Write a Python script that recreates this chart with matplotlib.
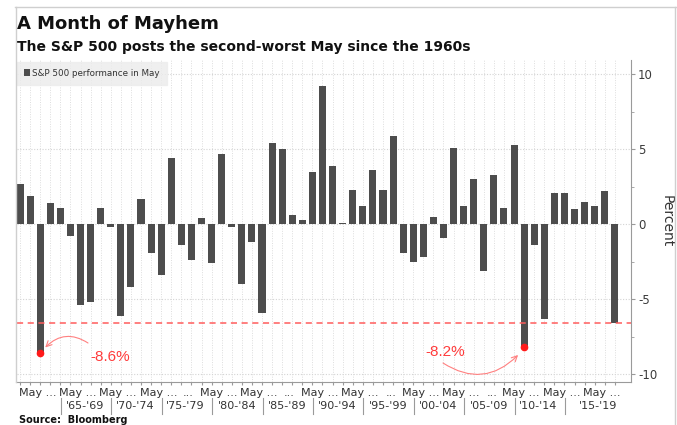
import matplotlib
matplotlib.use("Agg")
import matplotlib.pyplot as plt
import matplotlib.transforms as mtransforms
from matplotlib.lines import Line2D
import numpy as np

years = list(range(1960, 2020))
values = [2.7, 1.9, -8.6, 1.4, 1.1, -0.8, -5.4, -5.2, 1.1, -0.2,
          -6.1, -4.2, 1.7, -1.9, -3.4, 4.4, -1.4, -2.4, 0.4, -2.6,
          4.7, -0.2, -4.0, -1.2, -5.9, 5.4, 5.0, 0.6, 0.3, 3.5,
          9.2, 3.9, 0.1, 2.3, 1.2, 3.6, 2.3, 5.9, -1.9, -2.5,
          -2.2, 0.5, -0.9, 5.1, 1.2, 3.0, -3.1, 3.3, 1.1, 5.3,
          -8.2, -1.4, -6.3, 2.1, 2.1, 1.0, 1.5, 1.2, 2.2, -6.6]

row1_labels = ["May ...", "May ...", "May ...", "May ...", "...", "May ...", "May ...",
               "...", "May ...", "May ...", "...", "May ...", "May ...", "...",
               "May ...", "May ...", "May ..."]
row1_pos = [1960, 1964, 1968, 1972, 1976.3, 1978, 1982, 1986.3, 1988, 1992,
            1996.4, 1998, 2002, 2006.4, 2008, 2012, 2016]
row2_labels = ["'65-'69", "'70-'74", "'75-'79", "'80-'84", "'85-'89", "'90-'94",
               "'95-'99", "'00-'04", "'05-'09", "'10-'14", "'15-'19"]
row2_pos = [1966.45, 1971.4, 1976.4, 1981.5, 1986.5, 1991.5, 1996.5, 2001.5,
            2006.5, 2011.4, 2017.3]
sep_pos = [1964.05 + 5 * k for k in range(11)]

highlights = [(1962, -8.6, "-8.6%"), (2010, -8.2, "-8.2%")]
ref_level = -6.6

W, H = 677, 425
fig = plt.figure(figsize=(W / 100, H / 100), dpi=100)
fig.patch.set_facecolor("white")

L, R, T, B = 16.5, 631, 60, 382
ax = fig.add_axes([L / W, 1 - B / H, (R - L) / W, (B - T) / H])
ax.set_facecolor("white")

ax.bar(years, values, width=0.7, color="#4d4d4d", zorder=3, label="S&P 500 performance in May")
ax.set_xlim(1959.65, 2020.6)
ax.set_ylim(-10.5, 10.95)

# grids
for yr in years:
    ax.axvline(yr, color="#dddddd", lw=0.7, ls=(0, (1, 1.5)), zorder=1)
for yv in [10, 5, 0, -5, -10]:
    ax.axhline(yv, color="#d4d4d4", lw=0.8, ls=(0, (1, 1.5)), zorder=1)

ax.axhline(ref_level, color="#ff5c5c", lw=1.1, ls=(0, (4, 3)), zorder=4)

for yr, v, txt in highlights:
    ax.plot([yr], [v], "o", color="#ff1a1a", ms=4.5, zorder=5)

# spines / ticks
for s in ["top", "left"]:
    ax.spines[s].set_visible(False)
ax.spines["right"].set_color("#9a9a9a")
ax.spines["bottom"].set_color("#9a9a9a")
ax.yaxis.tick_right()
ax.yaxis.set_label_position("right")
ax.set_yticks([10, 5, 0, -5, -10])
ax.set_yticklabels(["10", "5", "0", "-5", "-10"])
ax.set_yticks([7.5, 2.5, -2.5, -7.5], minor=True)
ax.tick_params(axis="y", which="major", length=3, color="#9a9a9a", labelsize=8.5,
               labelcolor="#3a3a3a", pad=2)
ax.tick_params(axis="y", which="minor", length=2, color="#9a9a9a")
ax.set_xticks(years)
ax.set_xticklabels([])
ax.tick_params(axis="x", which="major", length=2, color="#9a9a9a")
ax.set_ylabel("Percent", rotation=270, fontsize=10, color="#333333", labelpad=12)

# x labels
trans = mtransforms.blended_transform_factory(ax.transData, fig.transFigure)
for lab, p in zip(row1_labels, row1_pos):
    ax.text(p - 0.15, 1 - 393 / H, lab, transform=trans, ha="left", va="center",
            fontsize=8, color="#333333", clip_on=False)
for lab, p in zip(row2_labels, row2_pos):
    ax.text(p, 1 - 406 / H, lab, transform=trans, ha="center", va="center",
            fontsize=8, color="#333333", clip_on=False)
for p in sep_pos:
    ax.add_line(Line2D([p, p], [1 - 398 / H, 1 - 414 / H], transform=trans,
                       color="#9a9a9a", lw=0.8, clip_on=False))

# legend box
leg = ax.legend(loc="upper left", bbox_to_anchor=(0.0, 0.995), frameon=True, fontsize=6.3,
                handlelength=0.7, handleheight=0.7, handletextpad=0.3,
                borderpad=0.8, fancybox=False, borderaxespad=0.0)
leg.get_frame().set_facecolor("#ececec")
leg.get_frame().set_edgecolor("#ececec")
for t in leg.get_texts():
    t.set_color("#333333")

# annotations
ax.text(90, H - 357, "-8.6%", transform=None, fontsize=11, color="#ff3b3b",
        ha="left", va="center", family="Liberation Sans")
ax.text(425, H - 352, "-8.2%", transform=None, fontsize=11, color="#ff3b3b",
        ha="left", va="center", family="Liberation Sans")
ax.annotate("", xy=(1962.5, -8.2), xycoords="data", xytext=(88, H - 343),
            textcoords="figure pixels",
            arrowprops=dict(arrowstyle="->", color="#ff8080", lw=0.8,
                            connectionstyle="arc3,rad=0.4", shrinkA=0, shrinkB=0))
ax.annotate("", xy=(2009.4, -8.7), xycoords="data", xytext=(443, H - 363),
            textcoords="figure pixels",
            arrowprops=dict(arrowstyle="->", color="#ff8080", lw=0.8,
                            connectionstyle="arc3,rad=0.4", shrinkA=0, shrinkB=0))

# titles
fig.text(17 / W, 1 - 24 / H, "A Month of Mayhem", fontsize=13, fontweight="bold",
         color="#111111", ha="left", va="center")
fig.text(17 / W, 1 - 46.5 / H, "The S&P 500 posts the second-worst May since the 1960s",
         fontsize=10, fontweight="bold", color="#111111", ha="left", va="center")
fig.text(19 / W, 1 - 415 / H, "Source:  Bloomberg", fontsize=7, fontweight="bold",
         color="#111111", ha="left", va="top")

# frame lines
fig.add_artist(Line2D([15 / W, 1], [1 - 7 / H, 1 - 7 / H], transform=fig.transFigure,
                      color="#cfcfcf", lw=1))
fig.add_artist(Line2D([16 / W, 16 / W], [1 - 7 / H, 1 - B / H], transform=fig.transFigure,
                      color="#cfcfcf", lw=1))
fig.add_artist(Line2D([675 / W, 675 / W], [1 - 7 / H, 0], transform=fig.transFigure,
                      color="#cfcfcf", lw=1))

fig.savefig("out.png", dpi=100)
